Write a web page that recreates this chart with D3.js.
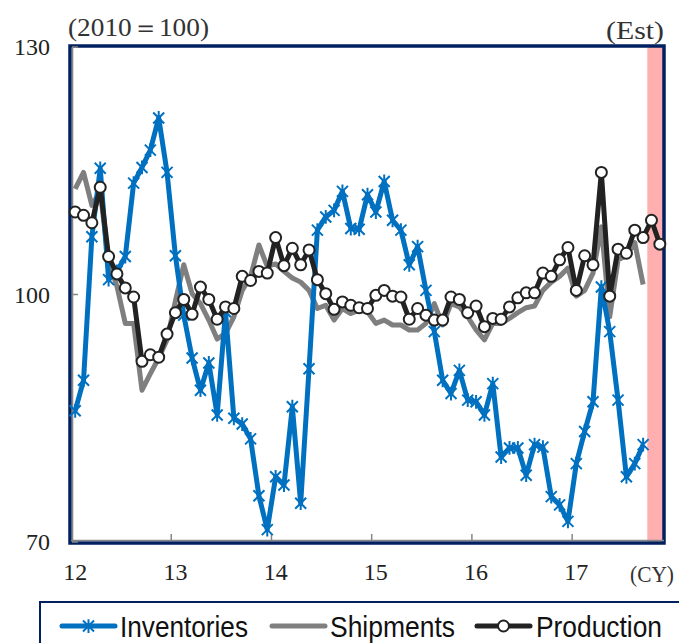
<!DOCTYPE html>
<html>
<head>
<meta charset="utf-8">
<script src="https://cdn.jsdelivr.net/npm/d3@7/dist/d3.min.js"></script>
<style>
  body { margin: 0; background: #fff; }
  svg { display: block; }
</style>
</head>
<body>
<svg id="chart" width="679" height="643"></svg>
<script>
// ---- data -------------------------------------------------------------
// Calendar years shown on the x axis (two-digit labels)
const yearLabels = ["12", "13", "14", "15", "16", "17"];
// Monthly categories, Jan 2012 .. Nov 2017
const months = [];
yearLabels.forEach(y => { for (let m = 1; m <= 12; m++) months.push(y + "-" + m); });
months.splice(71);
// Months that are estimates (shaded)
const estimateMonths = ["17-10", "17-11"];
// Y axis tick values (2010 = 100)
const yTicks = [70, 100, 130];

// Index values, Jan 2012 onward
const inventories = [
  85.9, 89.6, 107.0, 115.3, 101.8, 102.8, 104.6, 113.5, 115.4, 117.5, 121.4, 114.8,
  104.7, 97.5, 92.3, 88.4, 91.7, 85.4, 97.9, 85.0, 84.3, 82.5, 75.6, 71.5,
  77.9, 76.9, 86.4, 74.7, 91.0, 107.8, 109.4, 110.2, 112.5, 108.0, 107.9, 112.1,
  110.0, 113.7, 109.0, 107.8, 103.6, 105.8, 100.5, 95.5, 89.6, 88.0, 90.8, 87.2,
  87.0, 85.4, 89.2, 80.3, 81.4, 81.4, 78.1, 81.8, 81.5, 75.5, 74.5, 72.5,
  79.5, 83.4, 87.0, 100.9, 95.5, 87.2, 77.9, 79.5, 81.8
];
const shipments = [
  112.8, 114.8, 110.8, 112.5, 104.0, 101.0, 96.5, 96.5, 88.4, 90.4, 92.3, 94.5,
  99.2, 103.6, 100.1, 98.9, 96.9, 94.6, 95.3, 97.3, 100.5, 102.2, 106.0, 103.4,
  103.7, 102.8, 102.0, 101.5, 100.5, 98.3, 98.7, 96.9, 98.3, 97.7, 98.1, 97.9,
  96.5, 96.9, 96.3, 96.3, 95.7, 95.7, 96.5, 98.9, 96.3, 98.9, 98.5, 97.3,
  95.7, 94.5, 96.5, 96.5, 97.1, 97.8, 98.4, 98.6, 100.5, 101.5, 102.2, 103.2,
  99.8, 100.5, 102.6, 108.2, 97.3, 104.2, 104.7, 106.3, 101.2
];
const production = [
  110.0, 109.6, 108.7, 113.0, 104.6, 102.5, 100.8, 99.7, 91.9, 92.7, 92.4, 95.2,
  97.8, 99.4, 97.6, 100.9, 99.4, 97.0, 98.5, 98.3, 102.2, 101.7, 102.8, 102.6,
  106.9, 103.5, 105.6, 103.6, 105.4, 101.8, 100.1, 98.2, 99.1, 98.7, 98.4, 98.3,
  99.9, 100.5, 99.8, 99.7, 97.0, 98.3, 97.5, 96.9, 96.9, 99.7, 99.4, 97.8,
  98.6, 96.1, 97.1, 97.0, 98.5, 99.6, 100.2, 100.2, 102.6, 102.2, 104.2, 105.7,
  100.5, 104.7, 103.6, 114.8, 99.8, 105.5, 105.0, 107.8, 106.9, 109.0, 106.1
];

// ---- layout -----------------------------------------------------------
const svg = d3.select("#chart");
const plot = { left: 71, right: 664, top: 47, bottom: 542 };
const NAVY = "#002060", AXISGRAY = "#868686";
const BLUE = "#0070C0", GRAY = "#7F7F7F", BLACK = "#222222";
const SERIF = "'Liberation Serif', 'Noto Serif', serif";
const SANS = "'Liberation Sans', Arial, sans-serif";

const x = d3.scaleBand().domain(months).range([plot.left, plot.right]).padding(0);
const xc = m => x(m) + x.bandwidth() / 2;
const y = d3.scaleLinear().domain([70, 130]).range([plot.bottom, plot.top]);

// Estimate shading
const estStart = x(estimateMonths[0]);
const estEnd = x(estimateMonths[estimateMonths.length - 1]) + x.bandwidth();
svg.append("rect")
  .attr("x", estStart).attr("y", plot.top)
  .attr("width", estEnd - estStart).attr("height", plot.bottom - plot.top)
  .attr("fill", "#FFAFAF");

// Plot frame
svg.append("rect")
  .attr("x", plot.left - 1).attr("y", plot.top - 1)
  .attr("width", plot.right - plot.left + 1).attr("height", plot.bottom - plot.top + 2)
  .attr("fill", "none").attr("stroke", NAVY).attr("stroke-width", 3.5);

// Axis lines (gray) along left and bottom edges, ticks inside
const axisG = svg.append("g");
axisG.append("line")
  .attr("x1", plot.left + 1.5).attr("x2", plot.left + 1.5)
  .attr("y1", plot.top).attr("y2", plot.bottom)
  .attr("stroke", AXISGRAY).attr("stroke-width", 1.6);
axisG.append("line")
  .attr("x1", plot.left).attr("x2", plot.right)
  .attr("y1", plot.bottom - 1.5).attr("y2", plot.bottom - 1.5)
  .attr("stroke", AXISGRAY).attr("stroke-width", 1.6);

// x ticks at year boundaries
const yearStarts = yearLabels.map(yl => yl + "-1");
axisG.selectAll(".xtick").data(yearStarts.slice(1)).join("line")
  .attr("x1", d => x(d)).attr("x2", d => x(d))
  .attr("y1", plot.bottom - 1).attr("y2", plot.bottom - 8)
  .attr("stroke", AXISGRAY).attr("stroke-width", 1.5);
// y ticks
axisG.selectAll(".ytick").data(yTicks).join("line")
  .attr("x1", plot.left + 1).attr("x2", plot.left + 7)
  .attr("y1", d => y(d)).attr("y2", d => y(d))
  .attr("stroke", AXISGRAY).attr("stroke-width", 1.5);

// y tick labels
svg.selectAll(".ylab").data(yTicks).join("text")
  .attr("x", 50).attr("y", d => y(d) + 8)
  .attr("text-anchor", "end")
  .attr("font-family", SERIF).attr("font-size", 24).attr("fill", "#222")
  .text(d => d);

// x tick labels (centred on January of each year)
svg.selectAll(".xlab").data(yearLabels).join("text")
  .attr("x", d => xc(d + "-1")).attr("y", 580)
  .attr("text-anchor", "middle")
  .attr("font-family", SERIF).attr("font-size", 24).attr("fill", "#222")
  .text(d => d);

// unit / note labels
svg.append("text").attr("x", 68).attr("y", 36)
  .attr("font-family", SERIF).attr("font-size", 25).attr("fill", "#333")
  .attr("textLength", 141).attr("lengthAdjust", "spacingAndGlyphs")
  .text("(2010＝100)");
svg.append("text").attr("x", 606).attr("y", 39)
  .attr("font-family", SERIF).attr("font-size", 25).attr("fill", "#333")
  .attr("textLength", 58).attr("lengthAdjust", "spacingAndGlyphs")
  .text("(Est)");
svg.append("text").attr("x", 630).attr("y", 582)
  .attr("font-family", SERIF).attr("font-size", 24).attr("fill", "#333")
  .attr("textLength", 44).attr("lengthAdjust", "spacingAndGlyphs")
  .text("(CY)");

// ---- series -----------------------------------------------------------
const line = d3.line().x(d => xc(d.m)).y(d => y(d.v));
const toPts = arr => arr.map((v, i) => ({ m: months[i], v }));

const starPath = s => `M${-s},${-s}L${s},${s}M${-s},${s}L${s},${-s}M0,${-s * 1.25}L0,${s * 1.25}`;

// Shipments
svg.append("path").datum(toPts(shipments))
  .attr("d", line).attr("fill", "none")
  .attr("stroke", GRAY).attr("stroke-width", 5).attr("stroke-linejoin", "round");

// Inventories
const invPts = toPts(inventories);
svg.append("path").datum(invPts)
  .attr("d", line).attr("fill", "none")
  .attr("stroke", BLUE).attr("stroke-width", 5).attr("stroke-linejoin", "round");
svg.append("g").selectAll("path").data(invPts).join("path")
  .attr("transform", d => `translate(${xc(d.m)},${y(d.v)})`)
  .attr("d", starPath(5.5))
  .attr("stroke", BLUE).attr("stroke-width", 2).attr("fill", "none");

// Production
const prodPts = toPts(production);
svg.append("path").datum(prodPts)
  .attr("d", line).attr("fill", "none")
  .attr("stroke", BLACK).attr("stroke-width", 5).attr("stroke-linejoin", "round");
svg.append("g").selectAll("circle").data(prodPts).join("circle")
  .attr("cx", d => xc(d.m)).attr("cy", d => y(d.v)).attr("r", 5.5)
  .attr("fill", "#fff").attr("stroke", BLACK).attr("stroke-width", 2);

// ---- legend -----------------------------------------------------------
const legend = svg.append("g");
legend.append("rect")
  .attr("x", 40).attr("y", 602).attr("width", 660).attr("height", 60)
  .attr("fill", "#fff").attr("stroke", NAVY).attr("stroke-width", 2);

const legendItems = [
  { name: "Inventories", color: BLUE, x0: 62, tx: 120, tw: 128, marker: "star" },
  { name: "Shipments", color: GRAY, x0: 272, tx: 330, tw: 125, marker: null },
  { name: "Production", color: BLACK, x0: 477, tx: 536, tw: 126, marker: "circle" }
];
const ly = 626;
legendItems.forEach(it => {
  legend.append("line")
    .attr("x1", it.x0).attr("x2", it.x0 + 53).attr("y1", ly).attr("y2", ly)
    .attr("stroke", it.color).attr("stroke-width", 5).attr("stroke-linecap", "round");
  if (it.marker === "star") {
    legend.append("path").attr("transform", `translate(${it.x0 + 26.5},${ly})`)
      .attr("d", starPath(5.5)).attr("stroke", it.color).attr("stroke-width", 2).attr("fill", "none");
  } else if (it.marker === "circle") {
    legend.append("circle").attr("cx", it.x0 + 26.5).attr("cy", ly).attr("r", 5.5)
      .attr("fill", "#fff").attr("stroke", it.color).attr("stroke-width", 2);
  }
  legend.append("text")
    .attr("x", it.tx).attr("y", 637)
    .attr("font-family", SANS).attr("font-size", 29).attr("fill", "#111")
    .attr("textLength", it.tw).attr("lengthAdjust", "spacingAndGlyphs")
    .text(it.name);
});
</script>
</body>
</html>
